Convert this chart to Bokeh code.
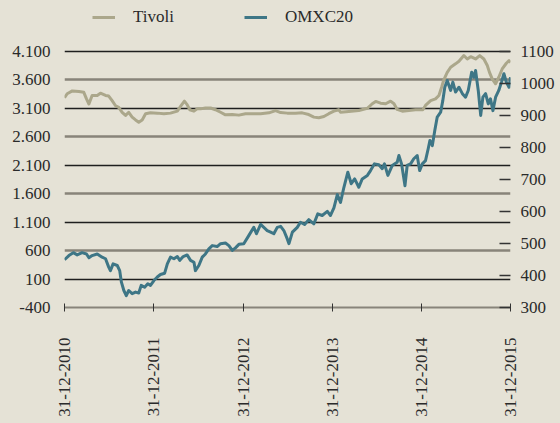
import math
import pandas as pd
from bokeh.plotting import figure
from bokeh.models import (Range1d, LinearAxis, FixedTicker, Grid, Legend, LegendItem)
from bokeh.embed import file_html
from bokeh.resources import INLINE

# ---------------- data ----------------
# day offsets after 31-12-2010
tivoli_days = [0, 11, 32, 59, 79, 90, 100, 113, 134, 147,
               168, 181, 195, 209, 222, 236, 250, 263, 277, 291,
               304, 318, 332, 352, 380, 407, 434, 462, 478, 491,
               502, 513, 530, 543, 557, 577, 598, 618, 639, 659,
               687, 714, 741, 769, 803, 837, 864, 885, 912, 946,
               973, 1000, 1021, 1041, 1062, 1082, 1103, 1123, 1130, 1164,
               1205, 1240, 1260, 1274, 1294, 1315, 1335, 1349, 1362, 1383,
               1410, 1437, 1467, 1478, 1499, 1519, 1533, 1544, 1553, 1567,
               1581, 1601, 1615, 1635, 1649, 1663, 1683, 1700, 1717, 1731,
               1740, 1751, 1765, 1778, 1792, 1809, 1820, 1826]
tivoli_values = [3280, 3350, 3400, 3390, 3375, 3260, 3170, 3320, 3320, 3360,
                 3320, 3310, 3230, 3140, 3110, 3025, 2970, 3025, 2940, 2890,
                 2850, 2890, 3000, 3015, 3010, 3000, 3010, 3045, 3145, 3220,
                 3160, 3070, 3045, 3085, 3085, 3100, 3100, 3070, 3025, 2980,
                 2985, 2975, 3000, 3000, 3000, 3015, 3055, 3020, 3010, 3010,
                 3015, 2985, 2940, 2930, 2950, 3000, 3045, 3070, 3025, 3040,
                 3055, 3095, 3175, 3215, 3185, 3175, 3220, 3175, 3075, 3045,
                 3055, 3070, 3070, 3145, 3230, 3260, 3320, 3465, 3595, 3725,
                 3815, 3875, 3920, 4020, 3960, 4000, 3960, 4020, 3960, 3845,
                 3725, 3610, 3525, 3640, 3785, 3885, 3930, 3900]

omx_days = [0, 18, 36, 52, 72, 90, 100, 113, 134, 154,
            168, 181, 188, 199, 216, 226, 233, 243, 253, 263,
            277, 291, 304, 314, 328, 341, 352, 366, 380, 393,
            410, 421, 434, 448, 462, 472, 486, 502, 516, 530,
            536, 550, 564, 577, 591, 605, 625, 639, 659, 673,
            687, 700, 714, 734, 755, 775, 786, 803, 816, 830,
            844, 857, 871, 885, 898, 912, 919, 933, 953, 966,
            983, 1000, 1021, 1037, 1055, 1076, 1089, 1103, 1117, 1130,
            1144, 1160, 1174, 1188, 1205, 1219, 1240, 1253, 1269, 1287,
            1301, 1310, 1324, 1342, 1362, 1369, 1380, 1394, 1403, 1417,
            1430, 1444, 1454, 1465, 1478, 1489, 1496, 1506, 1516, 1526,
            1540, 1549, 1557, 1567, 1581, 1590, 1601, 1615, 1629, 1642,
            1653, 1667, 1676, 1683, 1694, 1704, 1713, 1724, 1735, 1744,
            1754, 1765, 1778, 1789, 1799, 1809, 1820, 1826]
omx_values = [449, 462, 471, 464, 471, 467, 455, 462, 467, 457,
              452, 426, 415, 436, 431, 415, 379, 353, 337, 353,
              343, 348, 345, 369, 363, 374, 369, 384, 395, 403,
              407, 436, 457, 452, 459, 447, 459, 464, 447, 441,
              415, 431, 457, 467, 483, 493, 490, 499, 501, 493,
              478, 486, 497, 499, 525, 550, 530, 559, 550, 540,
              535, 530, 550, 553, 540, 514, 499, 535, 550, 566,
              559, 574, 561, 592, 587, 600, 587, 611, 652, 628,
              675, 722, 686, 701, 675, 701, 712, 727, 748, 745,
              733, 748, 712, 743, 753, 774, 748, 680, 743, 748,
              764, 774, 727, 748, 758, 795, 821, 805, 852, 894,
              909, 946, 987, 1008, 977, 1003, 972, 987, 967, 956,
              977, 1034, 1018, 1039, 977, 899, 956, 967, 935, 951,
              914, 956, 977, 1003, 1029, 1003, 987, 1018]

series_names = ["Tivoli", "OMXC20"]

x_tick_dates = ["2010-12-31", "2011-12-31", "2012-12-31", "2013-12-31", "2014-12-31", "2015-12-31"]
x_tick_labels = ["31-12-2010", "31-12-2011", "31-12-2012", "31-12-2013", "31-12-2014", "31-12-2015"]

left_ticks = [-400, 100, 600, 1100, 1600, 2100, 2600, 3100, 3600, 4100]
left_labels = ["-400", "100", "600", "1.100", "1.600", "2.100", "2.600", "3.100", "3.600", "4.100"]
dark_grid = [100, 1100, 2100, 3100, 4100]
gray_grid = [600, 1600, 2600, 3600]

right_ticks = [300, 400, 500, 600, 700, 800, 900, 1000, 1100]
right_labels = ["300", "400", "500", "600", "700", "800", "900", "1000", "1100"]

# ---------------- styling / layout ----------------
BG = "#e5e2d6"
C_TIV = "#aba78b"
C_OMX = "#3e7686"
DARK = "#1f1f1f"
GRAY = "#88847a"
TXT = "#2a2a2a"
FONT = "Liberation Serif"
FS = "17px"

W, H = 560, 423
LEFT, RIGHT = 64, 50               # frame spans x 64..510
Y_TOPVAL, Y_BOTVAL = 50.5, 307.0   # pixel rows of 4100 / -400 (and 1100 / 300)
BOTTOM = H - int(Y_BOTVAL)         # frame bottom = x axis row
l_upp = (4100 - (-400)) / (Y_BOTVAL - Y_TOPVAL)   # units per pixel, left scale
r_upp = (1100 - 300) / (Y_BOTVAL - Y_TOPVAL)      # units per pixel, right scale
yl = Range1d(-400, 4100 + Y_TOPVAL * l_upp)
yr = Range1d(300, 1100 + Y_TOPVAL * r_upp)

start = pd.Timestamp("2010-12-31")
t_x = start + pd.to_timedelta(tivoli_days, unit="D")
o_x = start + pd.to_timedelta(omx_days, unit="D")
xt = pd.to_datetime(x_tick_dates)
xt_ms = [float(t.value // 10**6) for t in xt]

p = figure(width=W, height=H, x_axis_type="datetime",
           output_backend="svg", toolbar_location=None,
           x_range=Range1d(xt[0], xt[-1]), y_range=yl,
           min_border_left=LEFT, min_border_right=RIGHT, min_border_top=0, min_border_bottom=BOTTOM,
           background_fill_color=BG, border_fill_color=BG, outline_line_color=None)
p.extra_y_ranges = {"omx": yr}

# grids
p.xgrid.visible = False
p.ygrid.ticker = FixedTicker(ticks=dark_grid)
p.ygrid.grid_line_color = DARK
p.ygrid.grid_line_width = 1.3
g2 = Grid(dimension=1, ticker=FixedTicker(ticks=gray_grid), grid_line_color=GRAY, grid_line_width=2.3)
p.add_layout(g2)

# lines
r1 = p.line(t_x, tivoli_values, line_color=C_TIV, line_width=3, line_join="round")
r2 = p.line(o_x, omx_values, line_color=C_OMX, line_width=3, line_join="round", y_range_name="omx")

# left axis
ya = p.yaxis[0]
ya.ticker = FixedTicker(ticks=left_ticks)
ya.major_label_overrides = {k: v for k, v in zip(left_ticks, left_labels)}
ya.axis_line_color = None
ya.major_tick_line_color = None
ya.minor_tick_line_color = None
ya.major_tick_out = 0
ya.major_tick_in = 0
ya.major_label_standoff = 14
ya.major_label_text_font = FONT
ya.major_label_text_font_size = FS
ya.major_label_text_color = TXT

# right axis
ra = LinearAxis(y_range_name="omx", ticker=FixedTicker(ticks=right_ticks))
ra.major_label_overrides = {k: v for k, v in zip(right_ticks, right_labels)}
ra.axis_line_color = None
ra.major_tick_in = 11
ra.major_tick_out = 0
ra.major_tick_line_color = "#333333"
ra.major_tick_line_width = 1.3
ra.minor_tick_line_color = None
ra.major_label_standoff = 10
ra.major_label_text_font = FONT
ra.major_label_text_font_size = FS
ra.major_label_text_color = TXT
p.add_layout(ra, "right")

# bottom axis with vertical date labels
xa = p.xaxis[0]
xa.ticker = FixedTicker(ticks=xt_ms)
xa.major_label_overrides = {k: v for k, v in zip(xt_ms, x_tick_labels)}
xa.major_label_orientation = math.pi / 2
xa.axis_line_color = GRAY
xa.axis_line_width = 2
xa.major_tick_in = 4
xa.major_tick_out = 4
xa.major_label_standoff = 26
xa.major_tick_line_color = "#333333"
xa.major_tick_line_width = 1
xa.minor_tick_line_color = None
xa.major_label_text_font = FONT
xa.major_label_text_font_size = FS
xa.major_label_text_color = TXT

# legend at the top
LEG_H = 22
frame_h = H - BOTTOM
legend = Legend(items=[LegendItem(label=series_names[0], renderers=[r1]),
                       LegendItem(label=series_names[1], renderers=[r2])],
                orientation="horizontal", location=(28, frame_h - 17 - LEG_H / 2),
                background_fill_alpha=0, border_line_color=None, padding=0, margin=0,
                spacing=70, glyph_width=23, glyph_height=LEG_H, label_height=LEG_H,
                label_standoff=18,
                label_text_font=FONT, label_text_font_size=FS, label_text_color=TXT)
p.add_layout(legend)

html = file_html(p, INLINE)
html = html.replace("</head>", "<style>body{background:%s;}</style></head>" % BG, 1)
open("out.html", "w").write(html)
